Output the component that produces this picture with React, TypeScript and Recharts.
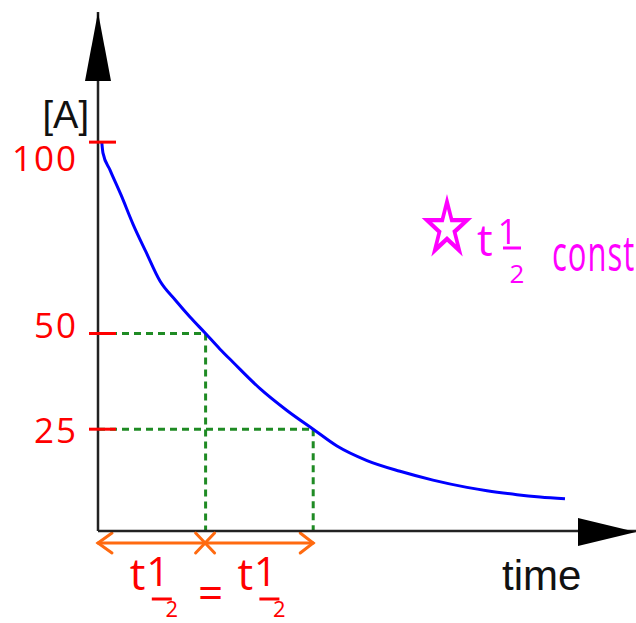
import React from "react";
import {
  LineChart,
  Line,
  XAxis,
  YAxis,
  ReferenceLine,
  ReferenceDot,
} from "recharts";

// concentration [A] vs time (time in half-lives)
const time = [
  0.035, 0.046, 0.112, 0.214, 0.325, 0.446, 0.576, 0.716, 0.855, 1.0, 1.134,
  1.255, 1.506, 1.756, 2.0, 2.221, 2.5, 2.807, 3.113, 3.429, 3.615, 3.894,
  4.108, 4.34,
];
const concentration = [
  100, 97.2, 92.7, 86.2, 78.6, 71.3, 63.7, 58.8, 54.3, 50, 45.9, 42.5, 35.6,
  29.9, 25, 20.6, 16.8, 14.0, 11.7, 9.8, 8.9, 7.9, 7.3, 6.8,
];

const yTicks = [100, 50, 25];
const halfLifeTimes = [1, 2];
const halfLifeLevels = [50, 25];
const bottomTicks = [0.5, 1, 1.5];
const bottomLabels = ["t½", "=", "t½"];

const X_MAX = 5;
const Y_MIN = -1.6;
const Y_MAX = 134;

const RED = "#ff0000";
const ORANGE = "#ff6a10";
const GREEN = "#1f8b24";
const MAGENTA = "#ff00ff";
const HAND = "'Open Sans', sans-serif";
const ARIAL = "'Liberation Sans', Arial, sans-serif";

const data = time.map((t, i) => ({ t, a: concentration[i] }));

export default function App() {
  return (
    <div style={{ position: "relative", width: 636, height: 623, background: "#fff" }}>
      <style>{"body{margin:0}"}</style>
      <LineChart
        width={636}
        height={623}
        data={data}
        margin={{ top: 12, right: 0, bottom: 0, left: 0 }}
      >
        <XAxis
          dataKey="t"
          type="number"
          domain={[0, X_MAX]}
          allowDataOverflow
          ticks={bottomTicks}
          interval={0}
          tickLine={false}
          tickSize={0}
          tickMargin={0}
          height={92}
          axisLine={{ stroke: "#222", strokeWidth: 2.5 }}
          tick={<BottomTick />}
          label={{ content: TimeLabel }}
        />
        <YAxis
          type="number"
          domain={[Y_MIN, Y_MAX]}
          allowDataOverflow
          ticks={yTicks}
          interval={0}
          width={98}
          tickLine={false}
          tickSize={0}
          tickMargin={0}
          axisLine={{ stroke: "#222", strokeWidth: 2.5 }}
          tick={<RedTick />}
          label={{ content: ConcLabel }}
        />

        {halfLifeTimes.map((t, i) => (
          <ReferenceLine
            key={"h" + t}
            segment={[
              { x: 0, y: halfLifeLevels[i] },
              { x: t, y: halfLifeLevels[i] },
            ]}
            ifOverflow="visible"
            shape={DashedSegment}
          />
        ))}
        {halfLifeTimes.map((t, i) => (
          <ReferenceLine
            key={"v" + t}
            segment={[
              { x: t, y: halfLifeLevels[i] },
              { x: t, y: Y_MIN },
            ]}
            ifOverflow="visible"
            shape={DashedSegment}
          />
        ))}

        <Line
          dataKey="a"
          type="monotone"
          stroke="#0000ff"
          strokeWidth={3}
          dot={false}
          isAnimationActive={false}
        />

        {/* orange double arrow under the axis */}
        <ReferenceLine
          segment={[
            { x: 0, y: Y_MIN },
            { x: halfLifeTimes[1], y: Y_MIN },
          ]}
          ifOverflow="visible"
          shape={OrangeArrow}
        />
        <ReferenceDot
          x={halfLifeTimes[0]}
          y={Y_MIN}
          r={0}
          ifOverflow="visible"
          shape={CrossMark}
        />

        {/* axis arrow heads */}
        <ReferenceDot x={0} y={Y_MAX} r={0} ifOverflow="visible" shape={UpArrow} />
        <ReferenceDot x={X_MAX} y={Y_MIN} r={0} ifOverflow="visible" shape={RightArrow} />
      </LineChart>

      <svg
        width={636}
        height={623}
        style={{ position: "absolute", left: 0, top: 0, pointerEvents: "none" }}
      >
        <g fill={MAGENTA} fontFamily={HAND}>
          <text
            transform="translate(421 253) scale(1 1.3)"
            fontSize={58}
            fontFamily="'DejaVu Sans', sans-serif"
            stroke={MAGENTA}
            strokeWidth={2}
          >
            ☆
          </text>
          <text x={477} y={256} fontSize={44}>
            t
            <tspan dx={5} dy={-12} fontSize={34}>1</tspan>
          </text>
          <line x1={503} x2={521} y1={248} y2={248} stroke={MAGENTA} strokeWidth={3} />
          <text x={517} y={283} fontSize={26} textAnchor="middle">2</text>
          <text transform="translate(552 271) scale(1 1.6)" fontSize={31} letterSpacing={1}>
            const
          </text>
        </g>
      </svg>
    </div>
  );
}

/* ------------------------------------------------------------------ */

const labelShift: Record<number, number> = { 100: 29, 50: 4, 25: 14 };

function RedTick(props: any) {
  const { x, y, payload } = props;
  const v = payload.value as number;
  return (
    <g>
      <line x1={x - 9} x2={x + 18} y1={y} y2={y} stroke={RED} strokeWidth={3} />
      <text
        x={x - 20}
        y={y + (labelShift[v] ?? 12)}
        textAnchor="end"
        fontSize={35}
        letterSpacing={2}
        fill={RED}
        fontFamily={HAND}
      >
        {v}
      </text>
    </g>
  );
}

function HalfSymbol({ x, y, color }: { x: number; y: number; color: string }) {
  return (
    <g fill={color} fontFamily={HAND}>
      <text x={x} y={y} fontSize={44}>
        t
        <tspan dx={1} dy={-4} fontSize={40}>1</tspan>
      </text>
      <line x1={x + 22} x2={x + 42} y1={y + 9} y2={y + 9} stroke={color} strokeWidth={3} />
      <text x={x + 42} y={y + 27} fontSize={22} textAnchor="middle">2</text>
    </g>
  );
}

function BottomTick(props: any) {
  const { x, y, payload } = props;
  const i = bottomTicks.indexOf(payload.value);
  const label = bottomLabels[i];
  if (label === "=") {
    return (
      <text x={x + 5} y={y + 78} fontSize={44} textAnchor="middle" fill={RED} fontFamily={HAND}>
        =
      </text>
    );
  }
  return <HalfSymbol x={x - 22} y={y + 59} color={RED} />;
}

function DashedSegment(props: any) {
  const { x1, x2, y1, y2 } = props;
  return (
    <line
      x1={x1}
      x2={x2}
      y1={y1}
      y2={y2}
      stroke={GREEN}
      strokeWidth={3}
      strokeDasharray="7 5"
    />
  );
}

function OrangeArrow(props: any) {
  const { x1, x2, y1 } = props;
  const y = y1 + 12;
  return (
    <g stroke={ORANGE} strokeWidth={3} fill="none" strokeLinecap="round">
      <line x1={x1} x2={x2} y1={y} y2={y} />
      <polyline points={`${x1 + 14},${y - 10} ${x1},${y} ${x1 + 14},${y + 10}`} />
      <polyline points={`${x2 - 13},${y - 10} ${x2},${y} ${x2 - 13},${y + 10}`} />
    </g>
  );
}

function CrossMark(props: any) {
  const { cx, cy } = props;
  const y = cy + 12;
  return (
    <g stroke={ORANGE} strokeWidth={3} strokeLinecap="round">
      <line x1={cx - 10} x2={cx + 9} y1={y - 10} y2={y + 10} />
      <line x1={cx + 9} x2={cx - 10} y1={y - 10} y2={y + 10} />
    </g>
  );
}

function UpArrow(props: any) {
  const { cx, cy } = props;
  return (
    <polygon
      points={`${cx},${cy} ${cx - 13},${cy + 69} ${cx + 13},${cy + 69}`}
      fill="#000"
    />
  );
}

function RightArrow(props: any) {
  const { cx, cy } = props;
  return (
    <polygon
      points={`${cx},${cy + 1} ${cx - 58},${cy - 13} ${cx - 58},${cy + 15}`}
      fill="#000"
    />
  );
}

function ConcLabel(props: any) {
  const { viewBox } = props;
  return (
    <text
      x={viewBox.x + viewBox.width - 9}
      y={128}
      textAnchor="end"
      fontSize={38}
      fill="#111"
      fontFamily={ARIAL}
    >
      [A]
    </text>
  );
}

function TimeLabel(props: any) {
  const { viewBox } = props;
  return (
    <text
      x={viewBox.x + 404}
      y={viewBox.y + 59}
      fontSize={42}
      fill="#111"
      fontFamily={ARIAL}
    >
      time
    </text>
  );
}
